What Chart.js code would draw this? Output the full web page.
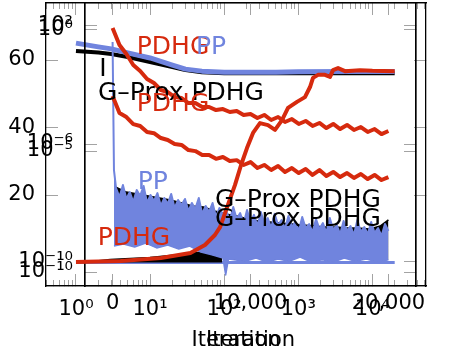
<!DOCTYPE html>
<html>
<head>
<meta charset="utf-8">
<script src="https://cdn.jsdelivr.net/npm/chart.js@4/dist/chart.umd.min.js"></script>
<style>
  html, body { margin: 0; padding: 0; background: #fff; }
  #wrap { position: relative; width: 450px; height: 360px; }
  #wrap canvas { position: absolute; left: 0; top: 0; }
</style>
</head>
<body>
<div id="wrap">
  <canvas id="logChart" width="450" height="360"></canvas>
  <canvas id="linChart" width="450" height="360"></canvas>
</div>
<script>
    // ---- log-x panel (outer frame) ----
    var logMajor = [1, 10, 100, 1000, 10000];
    var logMajorLabels = ['10⁰', '10¹', '10²', '10³', '10⁴'];
    var pctTicks = [20, 40, 60];
    var pctLabels = ['20', '40', '60'];

    var ppItersA = [1, 2, 3, 5, 10, 20, 30, 50, 100, 200, 500, 1000, 5000, 20000];
    var ppTopA = [65.0, 63.9, 63.3, 62.1, 60.6, 58.5, 57.3, 56.7, 56.4, 56.4, 56.4, 56.5, 56.6, 56.6];
    var gproxTopA = [62.7, 62.2, 61.8, 60.9, 59.4, 57.9, 57.0, 56.4, 56.1, 56.1, 56.1, 56.1, 56.1, 56.1];
    var pdhgItersA = [1, 4, 14, 35, 55, 75, 88, 112, 140, 169, 203, 245, 304, 390, 485, 603, 727, 960, 1230, 1440, 1580, 1845, 2290, 2680, 2940, 3440, 4270, 6800, 10000, 20000];
    var pdhgRiseA = [0.15, 0.44, 1.33, 2.81, 5.19, 8.15, 10.5, 17.0, 23.0, 28.9, 33.9, 38.4, 41.3, 40.7, 39.3, 42.2, 45.8, 47.6, 49.0, 52.0, 54.7, 55.6, 55.6, 55.0, 57.0, 57.6, 56.7, 57.0, 56.8, 56.7];
    var gproxItersA = [1.9, 2.9, 10, 35, 60, 94];
    var gproxLowA = [0.3, 0.74, 1.33, 2.52, 3.3, 4.0];
    var ppFlatItersA = [1, 20000];
    var ppFlatA = [0, 0];

    // ---- linear-x panel (inner frame) ----
    var linTicks = [0, 10000, 20000];
    var linLabels = ['0', '10,000', '20,000'];
    var resTicks1 = [1e2, 1e-10];
    var resLabels1 = ['10²', '10⁻¹⁰'];
    var resTicks2 = [1, 1e-5, 1e-10];
    var resLabels2 = ['10⁰', '10⁻⁵', '10⁻¹⁰'];
    var resTicks3 = [1e-6];
    var resLabels3 = ['10⁻⁶'];

    var iters = [0, 500, 1000, 1500, 2000, 2500, 3000, 3500, 4000, 4500, 5000, 5500, 6000, 6500, 7000, 7500, 8000, 8500, 9000, 9500, 10000, 10500, 11000, 11500, 12000, 12500, 13000, 13500, 14000, 14500, 15000, 15500, 16000, 16500, 17000, 17500, 18000, 18500, 19000, 19500, 20000];
    var pdhgRes1 = [1.21, 0.24, 0.102, 0.0358, 0.0202, 0.00944, 0.00645, 0.00332, 0.00274, 0.0017, 0.00155, 9.6e-4, 9.6e-4, 6.6e-4, 6.6e-4, 4.9e-4, 5.4e-4, 4.1e-4, 4.5e-4, 3.1e-4, 3.38e-4, 2.31e-4, 3.08e-4, 1.91e-4, 2.54e-4, 1.58e-4, 2.1e-4, 1.31e-4, 1.74e-4, 1.08e-4, 1.44e-4, 8.9e-5, 1.31e-4, 8.1e-5, 1.19e-4, 7.4e-5, 9.8e-5, 6.1e-5, 8.1e-5, 5.0e-5, 6.7e-5];
    var pdhgRes2 = [4.0e-5, 1.08e-5, 7.9e-6, 4.6e-6, 4.0e-6, 2.5e-6, 2.3e-6, 1.58e-6, 1.36e-6, 1.0e-6, 9.3e-7, 6.3e-7, 5.8e-7, 4.3e-7, 4.3e-7, 3.2e-7, 3.7e-7, 2.7e-7, 2.9e-7, 2.0e-7, 2.5e-7, 1.58e-7, 2.0e-7, 1.36e-7, 1.85e-7, 1.17e-7, 1.58e-7, 1.08e-7, 1.47e-7, 9.3e-8, 1.36e-7, 8.6e-8, 1.17e-7, 7.9e-8, 1.08e-7, 7.4e-8, 1.0e-7, 6.8e-8, 9.3e-8, 6.3e-8, 7.9e-8];

    var ppItersTop = [0, 100, 250, 500, 750, 1000, 1250, 1500, 1750, 2000, 2250, 2500, 2750, 3000, 3250, 3500, 3750, 4000, 4250, 4500, 4750, 5000, 5250, 5500, 5750, 6000, 6250, 6500, 6750, 7000, 7250, 7500, 7750, 8000, 8250, 8500, 8750, 9000, 9250, 9500, 9750, 10000, 10250, 10500, 10750, 11000, 11250, 11500, 11750, 12000, 12250, 12500, 12750, 13000, 13250, 13500, 13750, 14000, 14250, 14500, 14750, 15000, 15250, 15500, 15750, 16000, 16250, 16500, 16750, 17000, 17250, 17500, 17750, 18000, 18250, 18500, 18750, 19000, 19250, 19500, 19750, 20000];
    var ppTop = [15.4, 4.7e-6,
        5.8e-7, 2.0e-7, 8.2e-7, 1.6e-7, 3.6e-7, 1.12e-7, 4.6e-7, 2.3e-7, 7.3e-7, 1.0e-7,
        2.55e-7, 1.26e-7, 3.2e-7, 7.1e-8, 1.8e-7, 8.9e-8, 2.9e-7, 5.6e-8, 1.42e-7, 7.9e-8,
        1.6e-7, 3.9e-8, 1.0e-7, 5.0e-8, 1.8e-7, 2.8e-8, 7.1e-8, 3.5e-8, 1.0e-7, 1.95e-8,
        5.6e-8, 2.5e-8, 3.9e-8, 1.22e-8, 6.3e-8, 1.54e-8, 3.1e-8, 8.5e-9, 4.4e-8, 1.09e-8,
        2.5e-8, 6.7e-9, 3.5e-8, 9.6e-9, 1.73e-8, 5.3e-9, 2.8e-8, 7.6e-9, 1.37e-8, 4.7e-9,
        2.2e-8, 6.0e-9, 1.09e-8, 3.8e-9, 1.95e-8, 5.3e-9, 8.5e-9, 3.3e-9, 1.54e-8, 4.7e-9,
        9.6e-9, 3.0e-9, 1.73e-8, 4.2e-9, 7.6e-9, 2.6e-9, 1.22e-8, 3.8e-9, 6.7e-9, 2.35e-9,
        1.37e-8, 3.3e-9, 6.0e-9, 2.6e-9, 1.09e-8, 3.0e-9, 5.3e-9, 2.1e-9, 8.5e-9, 3.8e-9];
    var ppItersLow = [100, 800, 1600, 2400, 3200, 4000, 4800, 5600, 6400, 7200, 8000, 8200, 8400, 9600, 10400, 11200, 12000, 12800, 13600, 14400, 15200, 16000, 16800, 17600, 18400, 19200, 20000];
    var ppLow = [6.5e-10, 8.2e-10, 5.8e-10, 9.3e-10, 5.2e-10, 7.3e-10, 4.6e-10, 6.5e-10, 3.2e-10, 2.3e-10, 1.6e-10, 2.2e-11, 1.4e-10, 1.1e-10, 1.6e-10, 1.0e-10, 1.4e-10, 1.1e-10, 1.8e-10, 1.0e-10, 1.3e-10, 1.0e-10, 1.6e-10, 1.1e-10, 1.4e-10, 1.0e-10, 1.3e-10];
    var gproxIters = [200, 1000, 1800, 2600, 3400, 4200, 5000, 5800, 6600, 7400, 8200, 9000, 9800, 10600, 11400, 12200, 13000, 13800, 14600, 15400, 16200, 17000, 17800, 18600, 19400, 20000];
    var gproxTop = [6.5e-7, 3.6e-7, 2.9e-7, 2.3e-7, 1.8e-7, 1.42e-7, 1.0e-7, 7.1e-8, 6.3e-8, 3.9e-8, 2.8e-8, 2.2e-8, 1.54e-8, 1.22e-8, 1.09e-8, 9.6e-9, 8.5e-9, 7.6e-9, 6.7e-9, 6.0e-9, 6.0e-9, 5.3e-9, 5.3e-9, 4.7e-9, 6.7e-9, 1.37e-8];

    // curve labels, placed in the log panel's coordinates
    var labelText = ['PDHG', 'PP', 'I', 'G\u2013Prox PDHG', 'PDHG', 'PP', 'PDHG', 'G\u2013Prox PDHG', 'G\u2013Prox PDHG'];
    var labelIter = [20.4, 66.4, 2.31, 26.1, 20.4, 10.9, 6.06, 991, 991];
    var labelLevel = [63.85, 63.85, 57.3, 50.2, 46.7, 23.85, 7.26, 18.5, 12.6];
    var RED = 'rgb(214,42,14)', BLUE = 'rgb(112,132,222)', BLACK = '#000';
    var labelColor = [RED, BLUE, BLACK, BLACK, RED, BLUE, RED, BLACK, BLACK];

    var FONT = 'DejaVu Sans';
    var TICK_GREY = '#a3a3a3';

    function pts(xs, ys) {
        return xs.map(function (x, i) { return {x: x, y: ys[i]}; });
    }

    // pin the axis box to an exact size so both frames land where the original has them
    function fixBox(size) {
        return function (s) {
            if (s.isHorizontal()) s.height = size; else s.width = size;
            s.paddingLeft = 0; s.paddingRight = 0; s.paddingTop = 0; s.paddingBottom = 0;
            s._computeLabelArea = function () { return undefined; }; // stacked 0-width axes would clip their labels away
        };
    }

    function axis(o) {
        return {
            type: o.type, position: o.position, min: o.min, max: o.max,
            weight: o.weight, bounds: 'data',
            afterBuildTicks: function (s) { s.ticks = o.ticks.map(function (v) { return {value: v}; }); },
            afterFit: fixBox(o.size),
            grid: {drawOnChartArea: false, drawTicks: true, tickLength: -(o.tick || 12), color: TICK_GREY, tickColor: TICK_GREY, lineWidth: 1},
            border: {display: true, color: '#000', width: 1.3},
            ticks: {
                display: !!o.labels, autoSkip: false, maxRotation: 0, minRotation: 0,
                padding: o.pad || 0, color: '#000', font: {family: FONT, size: 21},
                callback: function (v, i) { return o.labels ? o.labels[i] : ''; }
            },
            title: o.title ? {display: true, text: o.title, color: '#000', font: {family: FONT, size: 21}, padding: {top: 0, bottom: 7}} : {display: false}
        };
    }

    var xMinA = 0.394, xMaxA = 52900;
    var logMinor = [];
    [0.1, 1, 10, 100, 1000, 10000].forEach(function (d) {
        for (var m = 2; m <= 9; m++) {
            var v = m * d;
            if (v > xMinA && v < xMaxA) logMinor.push(v);
        }
    });

    var common = {
        responsive: false, animation: false,
        layout: {padding: 0, autoPadding: false},
        plugins: {legend: {display: false}, tooltip: {enabled: false}},
        elements: {point: {radius: 0}, line: {tension: 0, borderJoinStyle: 'round', borderCapStyle: 'butt'}}
    };

    var logChart = new Chart(document.getElementById('logChart'), {
        type: 'line',
        data: {
            datasets: [
                {data: pts(ppItersA, ppTopA), borderColor: BLUE, borderWidth: 5, order: 1, clip: 0},
                {data: pts(ppItersA, gproxTopA), borderColor: BLACK, borderWidth: 4, order: 2, clip: 0},
                {data: pts(gproxItersA, gproxLowA), borderColor: BLACK, borderWidth: 2.5, backgroundColor: BLACK, fill: 'origin', order: 3, clip: 0},
                {data: pts(ppFlatItersA, ppFlatA), borderColor: BLUE, borderWidth: 3, order: 4, clip: 0}
            ]
        },
        options: Object.assign({}, common, {
            scales: {
                x: axis({type: 'logarithmic', position: 'bottom', min: xMinA, max: xMaxA, weight: 2, size: 74, ticks: logMajor, labels: logMajorLabels, tick: 12, pad: 23, title: 'Iteration'}),
                xMinor: axis({type: 'logarithmic', position: 'bottom', min: xMinA, max: xMaxA, weight: 1, size: 0, ticks: logMinor, tick: 6}),
                xTop: axis({type: 'logarithmic', position: 'top', min: xMinA, max: xMaxA, weight: 2, size: 3, ticks: logMajor, tick: 12}),
                xTopMinor: axis({type: 'logarithmic', position: 'top', min: xMinA, max: xMaxA, weight: 1, size: 0, ticks: logMinor, tick: 6}),
                y: axis({type: 'linear', position: 'left', min: -6.96, max: 76.89, weight: 2, size: 46, ticks: pctTicks, labels: pctLabels, tick: 12, pad: 23}),
                yRight: axis({type: 'linear', position: 'right', min: -6.96, max: 76.89, weight: 2, size: 24, ticks: pctTicks, tick: 12})
            }
        })
    });

    var labelPlugin = {
        id: 'curveLabels',
        afterDatasetsDraw: function (chart) {
            var sx = logChart.scales.x, sy = logChart.scales.y, ctx = chart.ctx;
            ctx.save();
            ctx.font = '25px "' + FONT + '"';
            ctx.textAlign = 'center';
            ctx.textBaseline = 'middle';
            labelText.forEach(function (t, i) {
                ctx.fillStyle = labelColor[i];
                ctx.fillText(t, sx.getPixelForValue(labelIter[i]), sy.getPixelForValue(labelLevel[i]));
            });
            ctx.restore();
        }
    };

    var linChart = new Chart(document.getElementById('linChart'), {
        type: 'line',
        data: {
            datasets: [
                // rising PDHG curve of the log panel sits on top of everything, so it is drawn here on a hidden copy of that panel's axes
                {data: pts(pdhgItersA, pdhgRiseA), xAxisID: 'xLog', yAxisID: 'yPct', borderColor: RED, borderWidth: 4, order: 0, clip: false},
                {data: pts(iters, pdhgRes1), yAxisID: 'y2', borderColor: RED, borderWidth: 4, order: 1, clip: 0},
                {data: pts(iters, pdhgRes2), yAxisID: 'y3', borderColor: RED, borderWidth: 4, order: 2, clip: 0},
                {data: pts(ppItersTop, ppTop), yAxisID: 'y', borderColor: BLUE, borderWidth: 2, backgroundColor: BLUE, fill: 4, order: 3, clip: 0},
                {data: pts(ppItersLow, ppLow), yAxisID: 'y', borderColor: BLUE, borderWidth: 1.5, order: 4, clip: 0},
                {data: pts(gproxIters, gproxTop), yAxisID: 'y', borderColor: BLACK, borderWidth: 1.5, backgroundColor: BLACK, fill: 4, order: 5, clip: 0}
            ]
        },
        options: Object.assign({}, common, {
            scales: {
                x: axis({type: 'linear', position: 'bottom', min: -2000, max: 22000, weight: 2, size: 74, ticks: linTicks, labels: linLabels, tick: 12, pad: 17, title: 'Iteration'}),
                xTop: axis({type: 'linear', position: 'top', min: -2000, max: 22000, weight: 2, size: 3, ticks: linTicks, tick: 12}),
                y: axis({type: 'logarithmic', position: 'left', min: 6.02e-12, max: 1477, weight: 3, size: 85, ticks: resTicks1, labels: resLabels1, tick: 12, pad: 24}),
                y2: axis({type: 'logarithmic', position: 'left', min: 2.64e-11, max: 13.05, weight: 2, size: 0, ticks: resTicks2, labels: resLabels2, tick: 12, pad: 24}),
                y3: axis({type: 'logarithmic', position: 'left', min: 1.85e-11, max: 0.0501, weight: 1, size: 0, ticks: resTicks3, labels: resLabels3, tick: 12, pad: 24}),
                yR: axis({type: 'logarithmic', position: 'right', min: 6.02e-12, max: 1477, weight: 3, size: 34, ticks: resTicks1, tick: 12}),
                y2R: axis({type: 'logarithmic', position: 'right', min: 2.64e-11, max: 13.05, weight: 2, size: 0, ticks: resTicks2, tick: 12}),
                y3R: axis({type: 'logarithmic', position: 'right', min: 1.85e-11, max: 0.0501, weight: 1, size: 0, ticks: resTicks3, tick: 12}),
                xLog: {type: 'logarithmic', display: false, min: 1.3237, max: 38770},
                yPct: {type: 'linear', display: false, min: -6.96, max: 76.89}
            }
        }),
        plugins: [labelPlugin]
    });
</script>
</body>
</html>
